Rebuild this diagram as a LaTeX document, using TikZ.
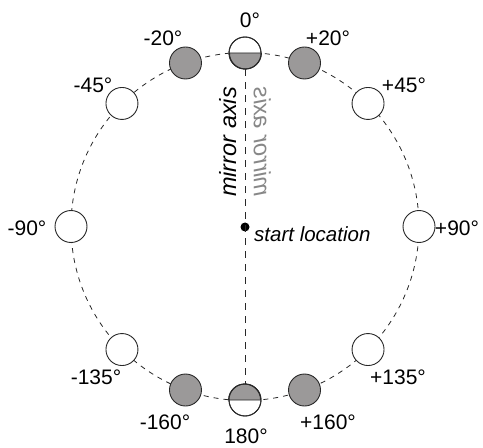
\documentclass[tikz,border=0pt]{standalone}
\usepackage{fontspec}
\setmainfont{Liberation Sans}
\definecolor{discgray}{RGB}{155,153,153}
\definecolor{mirrorgray}{RGB}{135,135,135}
\definecolor{linegray}{RGB}{40,40,40}
\begin{document}
\begin{tikzpicture}[x=1bp,y=-1bp,
  disc/.style={circle,draw=linegray,line width=0.9bp,minimum size=32bp,inner sep=0pt,fill=white},
  graydisc/.style={disc,fill=discgray},
  lab/.style={inner sep=0pt,font=\fontsize{21bp}{24bp}\selectfont},
  ring/.style={dash pattern=on 5bp off 5bp,line width=0.8bp,draw=linegray},
  axisline/.style={dash pattern=on 7bp off 6bp,line width=0.9bp,draw=linegray}]
\useasboundingbox (0,0) rectangle (483,448);
\coordinate (c) at (245,226.5);
\draw[ring] (c) circle[radius=174];
% discs
\node[disc] (n0) at (245,53) {};
\node[graydisc] (nm20) at ({245-174*sin(20)},{226.5-174*cos(20)}) {};
\node[graydisc] (np20) at ({245+174*sin(20)},{226.5-174*cos(20)}) {};
\node[disc] (nm45) at ({245-174*sin(45)},{226.5-174*cos(45)}) {};
\node[disc] (np45) at ({245+174*sin(45)},{226.5-174*cos(45)}) {};
\node[disc] (nm90) at (71,226.5) {};
\node[disc] (np90) at (419,226.5) {};
\node[disc] (nm135) at ({245-174*sin(45)},{226.5+174*cos(45)}) {};
\node[disc] (np135) at ({245+174*sin(45)},{226.5+174*cos(45)}) {};
\node[graydisc] (nm160) at ({245-174*sin(20)},{226.5+174*cos(20)}) {};
\node[graydisc] (np160) at ({245+174*sin(20)},{226.5+174*cos(20)}) {};
\node[disc] (n180) at (245,400) {};
% half fills
\filldraw[fill=discgray,draw=linegray,line width=0.9bp] (n0.east) arc[start angle=0,end angle=180,radius=16] -- cycle;
\filldraw[fill=discgray,draw=linegray,line width=0.9bp] (n180.west) arc[start angle=180,end angle=360,radius=16] -- cycle;
\draw[draw=linegray,line width=0.9bp] (n0) circle[radius=16];
\draw[draw=linegray,line width=0.9bp] (n180) circle[radius=16];
% axis and start
\node[circle,fill=black,inner sep=0pt,minimum size=9bp] (s) at (245,227) {};
\draw[axisline] (n0.south) -- (n180.north);
\node[inner sep=0pt,anchor=west,font=\fontsize{20.5bp}{24bp}\selectfont\itshape] (st) at (254,234.5) {start location};
\node[inner sep=0pt,anchor=south,rotate=90,font=\fontsize{23.5bp}{26bp}\selectfont\itshape] (ma) at (236.5,142) {mirror axis};
\node[inner sep=0pt,anchor=south,rotate=90,yscale=-1,text=mirrorgray,font=\fontsize{23.5bp}{26bp}\selectfont\itshape] (mb) at (253.5,142) {mirror axis};
% labels
\node[lab] (l0) at (250,20) {0°};
\node[lab] (lm20) at (163,38) {-20°};
\node[lab] (lp20) at (328,38) {+20°};
\node[lab] (lm45) at (93,85) {-45°};
\node[lab] (lp45) at (404,85) {+45°};
\node[lab] (lm90) at (27,228) {-90°};
\node[lab] (lp90) at (457,228) {+90°};
\node[lab] (lm135) at (96,377) {-135°};
\node[lab] (lp135) at (398,377) {+135°};
\node[lab] (lm160) at (165,422) {-160°};
\node[lab] (lp160) at (328,422) {+160°};
\node[lab] (l180) at (246,436) {180°};
\end{tikzpicture}
\end{document}
